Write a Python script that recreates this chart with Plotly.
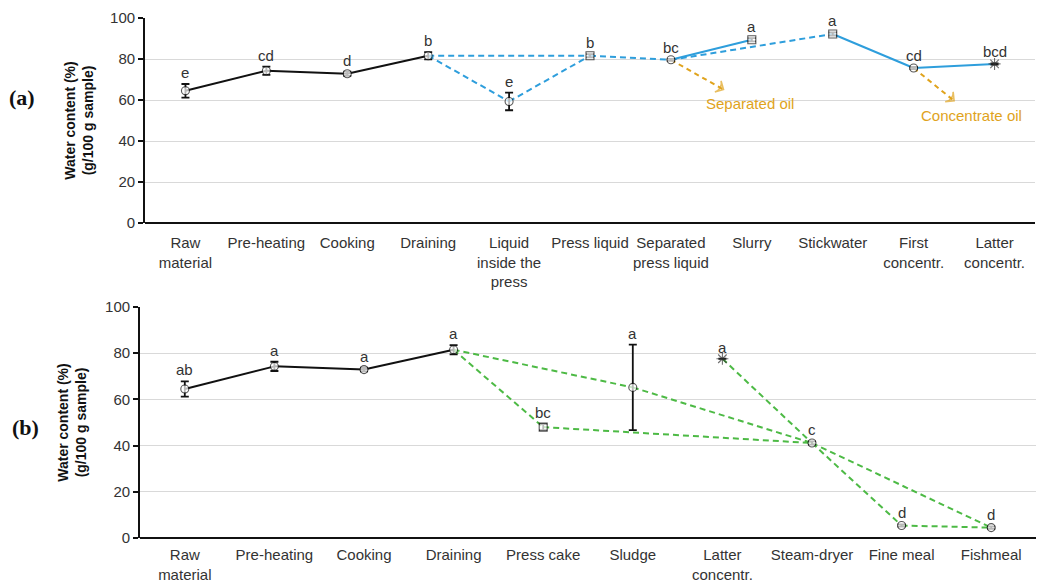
import plotly.graph_objects as go

# ---------------- data: panel (a) ----------------
a_labels = ["Raw<br>material", "Pre-heating", "Cooking", "Draining",
            "Liquid<br>inside the<br>press", "Press liquid",
            "Separated<br>press liquid", "Slurry", "Stickwater",
            "First<br>concentr.", "Latter<br>concentr."]
a_values = [64.5, 74.3, 72.8, 81.6, 59.3, 81.6, 79.6, 89.4, 92.2, 75.6, 77.6]
a_errors = [3.3, 2.0, 1.0, 1.8, 4.3, 0.8, 0.5, 0.8, 0.8, 0.5, 0.3]
a_groups = ["e", "cd", "d", "b", "e", "b", "bc", "a", "a", "cd", "bcd"]
a_markers = ["circle", "circle", "circle", "circle", "circle", "square",
             "circle", "square", "square", "circle", "asterisk-open"]
a_solid_black = [(0, 1), (1, 2), (2, 3)]
a_dashed_blue = [(3, 5), (3, 4), (4, 5), (5, 6), (6, 8)]
a_solid_blue = [(6, 7), (8, 9), (9, 10)]

# ---------------- data: panel (b) ----------------
b_labels = ["Raw<br>material", "Pre-heating", "Cooking", "Draining",
            "Press cake", "Sludge", "Latter<br>concentr.", "Steam-dryer",
            "Fine meal", "Fishmeal"]
b_values = [64.5, 74.3, 72.9, 81.5, 48.0, 65.2, 77.6, 41.1, 5.4, 4.5]
b_errors = [3.3, 2.0, 0.8, 2.0, 1.3, 18.5, 0.0, 0.7, 0.5, 0.5]
b_groups = ["ab", "a", "a", "a", "bc", "a", "a", "c", "d", "d"]
b_markers = ["circle", "circle", "circle", "circle", "square", "circle",
             "asterisk-open", "circle", "circle", "circle"]
b_solid_black = [(0, 1), (1, 2), (2, 3)]
b_dashed_green = [(3, 4), (3, 5), (5, 7), (4, 7), (6, 7), (7, 8), (7, 9), (8, 9)]

# side streams leaving the process (start index, text)
oil_streams = [(6, "Separated oil"), (9, "Concentrate oil")]

# ---------------- style ----------------
FONT = "Liberation Sans, Arial, sans-serif"
BLACK = "#111111"
BLUE = "#2E9EDC"
GREEN = "#4DBA45"
ORANGE = "#E0A31C"
GRID = "#D9D9D9"
TXT = "#333333"
DASH = "6px,4px"

fig = go.Figure()


def add_segments(pairs, vals, color, dash, xa, ya, width=2):
    for i, j in pairs:
        fig.add_trace(go.Scatter(
            x=[i, j], y=[vals[i], vals[j]], mode="lines",
            line=dict(color=color, width=width, dash=dash),
            xaxis=xa, yaxis=ya, showlegend=False, hoverinfo="skip"))


def add_points(vals, errs, symbols, xa, ya):
    n = len(vals)
    star = [s == "asterisk-open" for s in symbols]
    fig.add_trace(go.Scatter(
        x=list(range(n)), y=vals, mode="markers",
        marker=dict(symbol=symbols,
                    size=[10 if s else 8 for s in star],
                    color=["#333333" if s else "white" for s in star],
                    line=dict(color=BLACK, width=1.1)),
        error_y=dict(type="data", array=errs, visible=True, color=BLACK,
                     thickness=1.8, width=4),
        cliponaxis=False, xaxis=xa, yaxis=ya, showlegend=False))


def add_groups(vals, errs, groups, xref, yref):
    for i, (v, e, g) in enumerate(zip(vals, errs, groups)):
        fig.add_annotation(x=i, y=v + e, xref=xref, yref=yref, text=g,
                           showarrow=False, yanchor="bottom", yshift=1,
                           font=dict(family=FONT, size=15, color=TXT))


# panel (a)
add_segments(a_solid_black, a_values, BLACK, "solid", "x", "y")
add_segments(a_dashed_blue, a_values, BLUE, DASH, "x", "y")
add_segments(a_solid_blue, a_values, BLUE, "solid", "x", "y")

# oil side streams: dashed arrows with a label below
arrow_dx = [0.65, 0.5]
arrow_dy = [-14.5, -16.0]
text_dx = [0.98, 0.71]
text_dy = [-21.1, -23.4]
for k, (idx, txt) in enumerate(oil_streams):
    x0, y0 = idx, a_values[idx]
    fig.add_trace(go.Scatter(
        x=[x0, x0 + arrow_dx[k]], y=[y0, y0 + arrow_dy[k]], mode="lines+markers",
        line=dict(color=ORANGE, width=2, dash="5px,4px"),
        marker=dict(symbol=["circle", "arrow-wide-open"], size=[0, 9],
                    angleref="previous", color=ORANGE,
                    line=dict(color=ORANGE, width=1.6)),
        xaxis="x", yaxis="y", showlegend=False, hoverinfo="skip"))
    fig.add_annotation(x=x0 + text_dx[k], y=y0 + text_dy[k], xref="x", yref="y",
                       text=txt, showarrow=False,
                       font=dict(family=FONT, size=15, color=ORANGE))

add_points(a_values, a_errors, a_markers, "x", "y")
add_groups(a_values, a_errors, a_groups, "x", "y")

# panel (b)
add_segments(b_solid_black, b_values, BLACK, "solid", "x2", "y2")
add_segments(b_dashed_green, b_values, GREEN, DASH, "x2", "y2")
add_points(b_values, b_errors, b_markers, "x2", "y2")
add_groups(b_values, b_errors, b_groups, "x2", "y2")

# ---------------- axes ----------------
W, H = 1038, 583


def xdom(l, r):
    return [l / W, r / W]


def ydom(bottom, top):
    return [(H - bottom) / H, (H - top) / H]


def xaxis(labels, dom, anchor, ticklen):
    n = len(labels)
    return dict(domain=dom, anchor=anchor, range=[-0.5, n - 0.5],
                tickvals=list(range(n)), ticktext=labels, automargin=False,
                showgrid=False, zeroline=False, showline=False,
                ticks="outside", ticklen=ticklen, tickcolor="rgba(0,0,0,0)",
                tickfont=dict(family=FONT, size=15, color=TXT))


def yaxis(dom, anchor, standoff):
    return dict(domain=dom, anchor=anchor, range=[0, 100], dtick=20,
                automargin=False,
                title=dict(text="<b>Water content (%)<br>(g/100 g sample)</b>",
                           standoff=standoff,
                           font=dict(family=FONT, size=14, color=BLACK)),
                showgrid=True, gridcolor=GRID, gridwidth=1.2,
                zeroline=True, zerolinecolor=BLACK, zerolinewidth=2.2,
                showline=True, linecolor=BLACK, linewidth=1.8,
                ticks="outside", ticklen=5, tickcolor=BLACK, tickwidth=1.5,
                tickfont=dict(family=FONT, size=15, color=TXT))


fig.update_layout(
    width=W, height=H,
    margin=dict(l=0, r=0, t=0, b=0, autoexpand=False),
    plot_bgcolor="white", paper_bgcolor="white",
    xaxis=xaxis(a_labels, xdom(145, 1035), "y", 6),
    yaxis=yaxis(ydom(223, 18), "x", 13),
    xaxis2=xaxis(b_labels, xdom(140, 1036), "y2", 3),
    yaxis2=yaxis(ydom(538, 307), "x2", 15),
)

# panel tags
for tag, x, y in [("(a)", 22, 97), ("(b)", 25, 428)]:
    fig.add_annotation(x=x / W, y=(H - y) / H, xref="paper", yref="paper",
                       xanchor="center", yanchor="middle",
                       text="<b>" + tag + "</b>", showarrow=False,
                       font=dict(family="Liberation Serif, Times New Roman, serif",
                                 size=22, color="#111111"))

fig.write_html("out.html")
